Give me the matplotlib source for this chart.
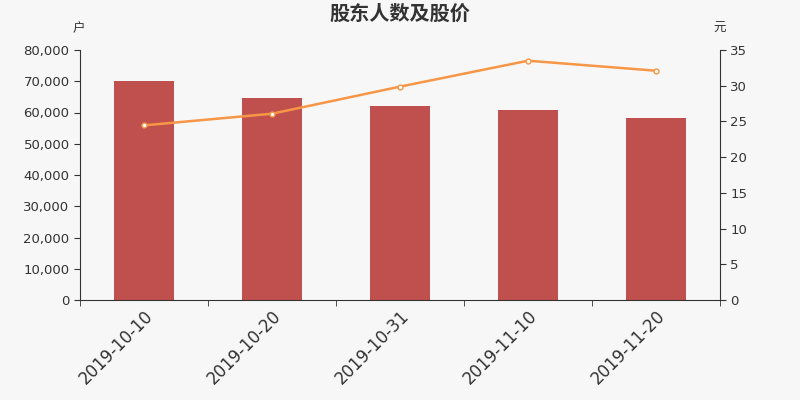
import numpy as np
import matplotlib.pyplot as plt
from matplotlib.ticker import FuncFormatter, FixedLocator

plt.rcParams['font.family'] = ['DejaVu Sans', 'Noto Sans CJK SC']

dates = ['2019-10-10', '2019-10-20', '2019-10-31', '2019-11-10', '2019-11-20']
holders = [70000, 64500, 62000, 60700, 58200]
price = [24.45, 26.08, 29.87, 33.5, 32.1]

bg = '#f7f7f7'
txt = '#333333'

fig = plt.figure(figsize=(8, 4), dpi=100, facecolor=bg)
ax = fig.add_axes([0.1, 0.25, 0.8, 0.625], facecolor=bg)
ax2 = ax.twinx()

x = np.arange(len(dates))
ax.bar(x, holders, width=0.47, color='#c0504d', zorder=2)
ax2.plot(x, price, color='#f79646', lw=1.8, marker='o', markersize=3.5,
         markerfacecolor='white', markeredgecolor='#f79646', markeredgewidth=1, zorder=3)

ax.set_xlim(-0.5, len(dates) - 0.5)
ax.set_ylim(0, 80000)
ax2.set_ylim(0, 35)
ax.set_yticks(np.arange(0, 80001, 10000))
ax2.set_yticks(np.arange(0, 36, 5))
ax.yaxis.set_major_formatter(FuncFormatter(lambda v, p: f'{int(v):,}'))

ax.set_xticks(x)
ax.set_xticklabels(dates, rotation=45, ha='right', rotation_mode='anchor',
                   fontsize=12, color=txt)
ax.tick_params(axis='x', which='major', length=0, pad=5)
ax.xaxis.set_minor_locator(FixedLocator(np.arange(-0.5, len(dates), 1.0)))
ax.tick_params(axis='x', which='minor', length=4, color=txt)

ax.tick_params(axis='y', labelsize=9.5, colors=txt, length=4, labelcolor=txt)
ax2.tick_params(axis='y', labelsize=9.5, colors=txt, length=4, labelcolor=txt)

for a in (ax, ax2):
    a.spines['top'].set_visible(False)
    for s in ('left', 'right', 'bottom'):
        a.spines[s].set_color(txt)
ax.spines['right'].set_visible(False)
ax2.spines['left'].set_visible(False)
ax2.spines['bottom'].set_visible(False)

fig.text(0.5, 0.965, '股东人数及股价', ha='center', va='center',
         fontsize=14.5, fontweight='bold', color=txt)
fig.text(0.098, 0.928, '户', ha='center', va='center', fontsize=9, color=txt)
fig.text(0.9, 0.928, '元', ha='center', va='center', fontsize=9, color=txt)

fig.savefig('out.png', dpi=100, facecolor=bg)
